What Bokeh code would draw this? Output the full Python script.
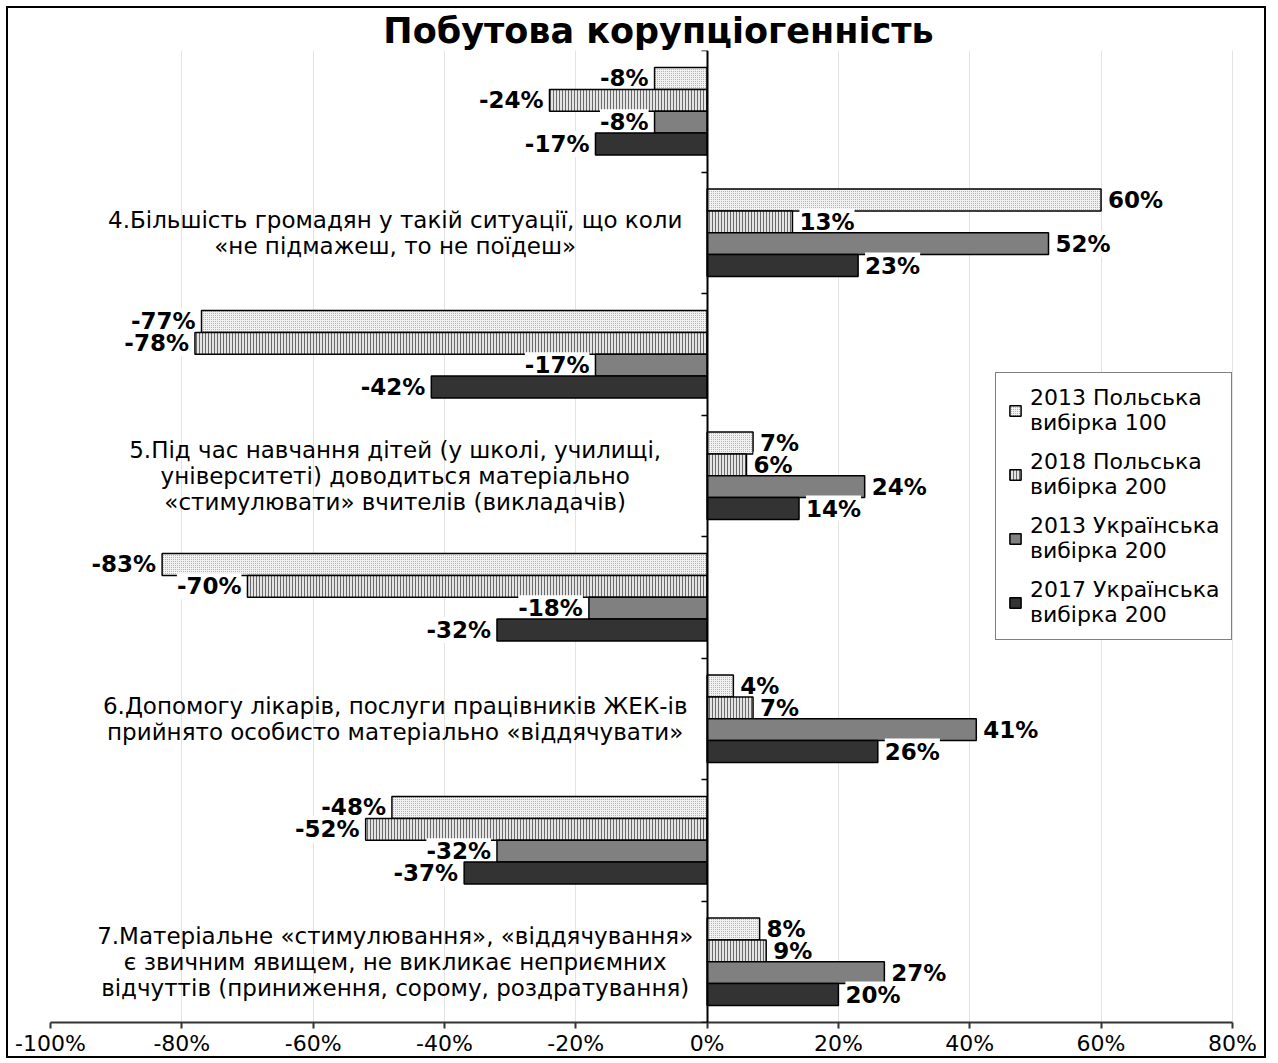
import numpy as np
from bokeh.plotting import figure
from bokeh.models import (ColumnDataSource, Range1d, FixedTicker, PrintfTickFormatter,
                          Legend, LegendItem)
from bokeh.embed import file_html
from bokeh.resources import INLINE
from bokeh.core.properties import value

title = "Побутова корупціогенність"
categories = [
    "",
    "4.Більшість громадян у такій ситуації, що коли\n«не підмажеш, то не поїдеш»",
    "",
    "5.Під час навчання дітей (у школі, училищі,\nуніверситеті) доводиться матеріально\n«стимулювати» вчителів (викладачів)",
    "",
    "6.Допомогу лікарів, послуги працівників ЖЕК-ів\nприйнято особисто матеріально «віддячувати»",
    "",
    "7.Матеріальне «стимулювання», «віддячування»\nє звичним явищем, не викликає неприємних\nвідчуттів (приниження, сорому, роздратування)",
]
series_names = ["2013 Польська\nвибірка 100", "2018 Польська\nвибірка 200",
                "2013 Українська\nвибірка 200", "2017 Українська\nвибірка 200"]
pol_2013 = [-8, 60, -77, 7, -83, 4, -48, 8]
pol_2018 = [-24, 13, -78, 6, -70, 7, -52, 9]
ukr_2013 = [-8, 52, -17, 24, -18, 41, -32, 27]
ukr_2017 = [-17, 23, -42, 14, -32, 26, -37, 20]
x_ticks = [-100, -80, -60, -40, -20, 0, 20, 40, 60, 80]

series = [pol_2013, pol_2018, ukr_2013, ukr_2017]
styles = [
    dict(fill_color="#f2f2f2", hatch_pattern=".", hatch_color="#a0a0a0", hatch_scale=2, hatch_weight=1),
    dict(fill_color="#e4e4e4", hatch_pattern="|", hatch_color="#6a6a6a", hatch_scale=3, hatch_weight=1),
    dict(fill_color="#808080"),
    dict(fill_color="#333333"),
]
offsets = [-0.27, -0.09, 0.09, 0.27]
bar_h = 0.18

FONT = "DejaVu Sans"

p = figure(width=1260, height=1052, x_range=Range1d(-100, 85.2), y_range=Range1d(8, 0),
           output_backend="svg", toolbar_location=None,
           min_border_left=42, min_border_right=2, min_border_top=42, min_border_bottom=38)
p.styles = {"border": "2px solid black", "margin": "6px 0 0 6px"}
p.outline_line_color = None
p.background_fill_color = "white"
p.border_fill_color = "white"

p.title.text = title
p.title.align = "center"
p.title.text_font = FONT
p.title.text_font_style = "bold"
p.title.text_font_size = "35px"
p.title.text_color = "black"
p.title.standoff = 0
p.title.offset = -18

centers = np.arange(len(categories)) + 0.5

items = []
for vals, off, st, name in zip(series, offsets, styles, series_names):
    vals = np.array(vals, dtype=float)
    src = ColumnDataSource(dict(
        y=centers + off, right=vals,
        label=[f"{int(v)}%" for v in vals],
        align=["left" if v >= 0 else "right" for v in vals],
        xoff=[7 if v >= 0 else -6 for v in vals],
    ))
    r = p.hbar(y="y", left=0, right="right", height=bar_h, source=src,
               line_color="black", line_width=1.5, **st)
    p.text(x="right", y="y", text="label", source=src, text_align="align",
           x_offset="xoff", text_baseline="middle", text_font=value(FONT),
           text_font_style="bold", text_font_size="23px", text_color="black",
           background_fill_color="white")
    items.append(LegendItem(label=name, renderers=[r]))

# category labels
cat_src = ColumnDataSource(dict(x=[-47.5] * len(categories), y=centers, text=categories))
p.text(x="x", y="y", text="text", source=cat_src, text_align="center", text_baseline="middle",
       text_font=value(FONT), text_font_size="23px", text_color="black", text_line_height=1.0)

# x axis
p.xaxis.ticker = FixedTicker(ticks=x_ticks)
p.xaxis.bounds = (-100, 80)
p.xaxis.formatter = PrintfTickFormatter(format="%d%%")
p.xaxis.axis_line_color = "#333333"
p.xaxis.axis_line_width = 2
p.xaxis.major_tick_line_color = "#333333"
p.xaxis.major_tick_line_width = 2
p.xaxis.major_tick_out = 6
p.xaxis.major_tick_in = 0
p.xaxis.minor_tick_line_color = None
p.xaxis.major_label_text_font = FONT
p.xaxis.major_label_text_font_size = "22px"
p.xaxis.major_label_text_color = "black"
p.xaxis.major_label_standoff = 2

# y axis at zero
p.yaxis.fixed_location = 0
p.yaxis.ticker = FixedTicker(ticks=list(range(len(categories) + 1)))
p.yaxis.major_label_text_color = None
p.yaxis.major_label_text_font_size = "0px"
p.yaxis.axis_line_color = "black"
p.yaxis.axis_line_width = 2
p.yaxis.major_tick_line_color = "black"
p.yaxis.major_tick_line_width = 1.5
p.yaxis.major_tick_out = 6
p.yaxis.major_tick_in = 0
p.yaxis.minor_tick_line_color = None

p.xgrid.ticker = FixedTicker(ticks=x_ticks)
p.xgrid.grid_line_color = "#e3e3e3"
p.ygrid.grid_line_color = None

legend = Legend(items=items, location=(945, 382), label_text_font=FONT,
                label_text_font_size="22px", label_text_color="black",
                label_text_line_height=1.0, glyph_width=14, glyph_height=13,
                label_standoff=8, spacing=14, padding=12, margin=0,
                border_line_color="black", border_line_width=1.5,
                background_fill_color="white", background_fill_alpha=1.0)
p.add_layout(legend, "center")

open("out.html", "w").write(file_html(p, INLINE))
